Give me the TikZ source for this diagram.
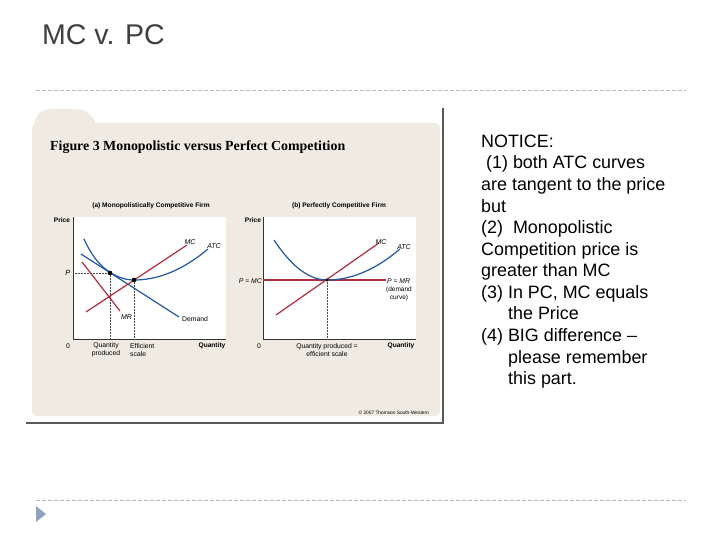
\documentclass[tikz,border=0pt]{standalone}
\usepackage{fontspec}
\setmainfont{Liberation Sans}
\newfontfamily\figserif{Liberation Serif}
\definecolor{beige}{HTML}{EFEBE3}
\definecolor{curvered}{HTML}{B22B3E}
\definecolor{curveblue}{HTML}{2157A3}
\definecolor{titlegray}{HTML}{3F3F3F}
\definecolor{dashgray}{HTML}{B8B8B8}
\definecolor{markblue}{HTML}{8EA3BF}
\begin{document}
\begin{tikzpicture}[x=1pt,y=-1pt,
  lbl/.style={inner sep=0pt, font=\fontsize{6.8}{7.6}\selectfont},
  blbl/.style={inner sep=0pt, font=\bfseries\fontsize{6.6}{7.6}\selectfont},
  ilbl/.style={inner sep=0pt, font=\itshape\fontsize{7}{8}\selectfont},
  redline/.style={draw=curvered, line width=1.2pt},
  blueline/.style={draw=curveblue, line width=1.2pt},
  axis/.style={draw=black!80, line width=0.7pt},
  guide/.style={draw=black!70, line width=0.5pt, densely dotted},
  notice/.style={inner sep=0pt, anchor=base west, font=\fontsize{17.9}{21}\selectfont},
  sep/.style={draw=dashgray, line width=0.9pt, dash pattern=on 4pt off 2pt}]
\useasboundingbox (0,0) rectangle (720,540);

% slide title and separators
\node[inner sep=0pt, anchor=base west, text=titlegray, font=\fontsize{28.5}{30}\selectfont] (title) at (42,45) {MC v. PC};
\coordinate (sepA1) at (36,90); \coordinate (sepA2) at (686,90);
\coordinate (sepB1) at (36,500); \coordinate (sepB2) at (686,500);
\draw[sep] (sepA1) -- (sepA2);
\draw[sep] (sepB1) -- (sepB2);
\fill[markblue] (36,506) -- (46,514) -- (36,522) -- cycle;

% figure panel
\draw[black!65, line width=1.6pt] (443,108) -- (443,423) -- (26,423);
\fill[beige, rounded corners=6pt] (32,123) rectangle (440,416);
\fill[beige] (34,126) .. controls (36,110) and (44,109) .. (58,109) -- (72,109) .. controls (86,109) and (92,114) .. (96,124) -- cycle;
\node[inner sep=0pt, anchor=west, font=\figserif\bfseries\fontsize{13.9}{15}\selectfont] (figtitle) at (50,147) {Figure 3 Monopolistic versus Perfect Competition};
\node[inner sep=0pt, anchor=east, font=\fontsize{4.8}{5}\selectfont] (copy) at (429,413) {\textcopyright\ 2007 Thomson South-Western};

% ---------- panel (a)
\fill[white] (73,217) rectangle (226,339);
\node[blbl] (subA) at (151,206) {(a) Monopolistically Competitive Firm};
\coordinate (aO) at (73,339);
\coordinate (aY) at (73,217);
\coordinate (aX) at (226,339);
\draw[axis] (aY) -- (aO) -- (aX);
\node[blbl] (aPrice) at (62,220) {Price};
\node[lbl] (aZero) at (68,346) {0};
\node[inner sep=0pt, font=\itshape\fontsize{7.5}{8}\selectfont] (aP) at (68,273) {P};
\node[lbl, align=center, font=\fontsize{6.8}{8}\selectfont] (aQp) at (106,350) {Quantity\\produced};
\node[lbl, align=left, anchor=west, font=\fontsize{6.8}{8}\selectfont] (aEs) at (130,350) {Efficient\\scale};
\node[blbl] (aQ) at (212,346) {Quantity};

\coordinate (aT) at (110,273);
\coordinate (aE) at (134,280);
\draw[guide] (73,273) -- (aT);
\draw[guide] (aT) -- (110,339);
\draw[guide] (aE) -- (134,339);

\draw[blueline] (81,254) -- (179,317);
\draw[blueline] plot[domain=84:134, samples=40] (\x,{280-0.0134*(\x-134)^2-0.43*(max(0,(110-\x)/10))^3})
  -- plot[domain=134:208, samples=30] (\x,{280-0.00566*(\x-134)^2});
\draw[redline] (86,312) -- (187,245);
\draw[redline] (82,262) -- (120,311);
\fill[black] (aT) circle (2.3pt);
\fill[black] (aE) circle (2.3pt);

\node[ilbl] (aMC) at (190,242) {MC};
\node[ilbl] (aATC) at (214,246) {ATC};
\node[ilbl] (aMR) at (126.5,317) {MR};
\node[lbl] (aD) at (195,319) {Demand};

% ---------- panel (b)
\fill[white] (263,217) rectangle (416,339);
\node[blbl] (subB) at (339,206) {(b) Perfectly Competitive Firm};
\coordinate (bO) at (263,339);
\coordinate (bY) at (263,217);
\coordinate (bX) at (416,339);
\draw[axis] (bY) -- (bO) -- (bX);
\node[blbl] (bPrice) at (253,220) {Price};
\node[lbl] (bZero) at (259,346) {0};
\node[lbl, anchor=east] (bPMC) at (262,281) {\textit{P} = \textit{MC}};
\node[lbl, align=center, font=\fontsize{6.8}{8}\selectfont] (bQp) at (327,350) {Quantity produced =\\efficient scale};
\node[blbl] (bQ) at (401,346) {Quantity};

\coordinate (bE) at (327,280);
\draw[guide] (bE) -- (327,339);
\draw[redline] (263,280) -- (386,280);
\draw[blueline] plot[domain=274:327, samples=30] (\x,{280-0.01424*(\x-327)^2})
  -- plot[domain=327:400, samples=30] (\x,{280-0.00582*(\x-327)^2});
\draw[redline] (276,315) -- (379,243);
\fill[black] (bE) circle (1.6pt);

\node[ilbl] (bMC) at (381,242) {MC};
\node[ilbl] (bATC) at (404,247) {ATC};
\node[lbl, anchor=west] (bPMR) at (387,281) {\textit{P} = \textit{MR}};
\node[lbl, align=center, font=\fontsize{6.5}{8}\selectfont] (bDem) at (399,294) {(demand\\curve)};

% ---------- notice text
\node[notice] (n1) at (481,147.5) {NOTICE:};
\node[notice] (n2) at (481,169.0) {\ (1) both ATC curves};
\node[notice] (n3) at (481,190.6) {are tangent to the price};
\node[notice] (n4) at (481,212.1) {but};
\node[notice] (n5) at (481,233.7) {(2)\ \ Monopolistic};
\node[notice] (n6) at (481,255.2) {Competition price is};
\node[notice] (n7) at (481,276.8) {greater than MC};
\node[notice] (n8) at (481,298.3) {(3) In PC, MC equals};
\node[notice] (n9) at (508,319.9) {the Price};
\node[notice] (n10) at (481,341.4) {(4) BIG difference --};
\node[notice] (n11) at (508,363.0) {please remember};
\node[notice] (n12) at (508,384.5) {this part.};
\end{tikzpicture}
\end{document}
